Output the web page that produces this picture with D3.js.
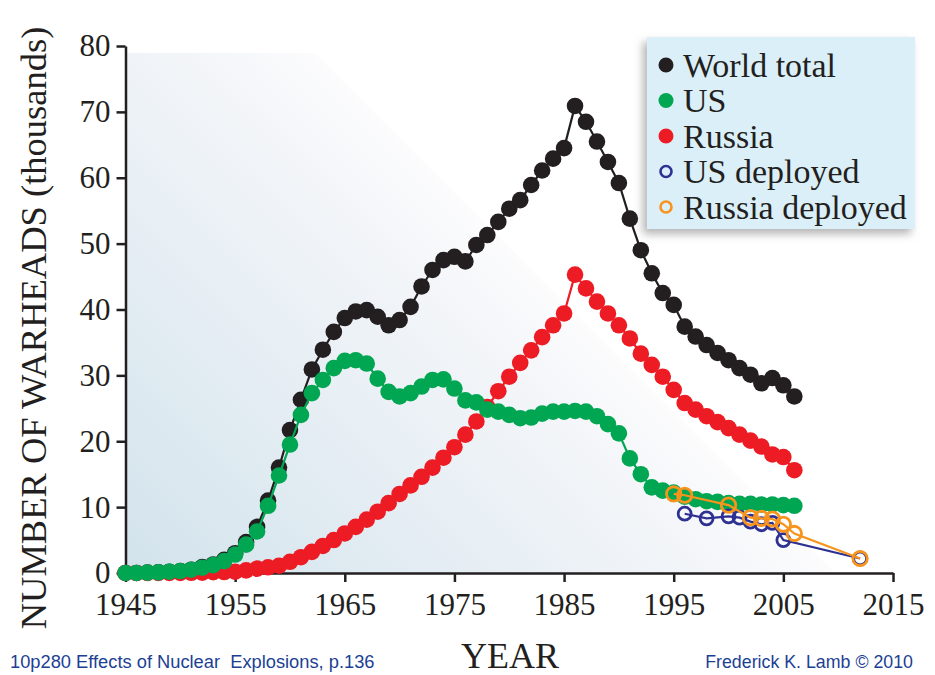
<!DOCTYPE html>
<html>
<head>
<meta charset="utf-8">
<script src="https://cdn.jsdelivr.net/npm/d3@7"></script>
<style>
  body { margin: 0; background: #fff; }
  svg { display: block; }
</style>
</head>
<body>
<div id="chart"></div>
<script>
// warhead counts in thousands, one value per year starting 1945
const firstYear = 1945;
const worldTotal = [
  0.0, 0.01, 0.05, 0.1, 0.2, 0.3, 0.5, 0.9, 1.3, 2.0,
  3.0, 4.7, 7.0, 11.0, 16.0, 21.7, 26.3, 30.9, 33.9, 36.6,
  38.7, 39.7, 39.9, 38.9, 37.6, 38.4, 40.4, 43.5, 46.0, 47.5,
  48.0, 47.3, 49.8, 51.3, 53.3, 55.3, 56.6, 58.9, 61.1, 62.9,
  64.5, 70.9, 68.5, 65.5, 62.4, 59.2, 53.8, 49.0, 45.5, 42.5,
  40.7, 37.4, 35.9, 34.6, 33.4, 32.3, 31.1, 30.1, 28.8, 29.6,
  28.5, 26.8
];
const usTotal = [
  0.0, 0.0, 0.05, 0.1, 0.2, 0.3, 0.5, 0.8, 1.2, 1.8,
  2.8, 4.3, 6.3, 10.2, 14.8, 19.5, 24.0, 27.3, 29.3, 31.1,
  32.2, 32.3, 31.8, 29.5, 27.5, 26.8, 27.3, 28.3, 29.3, 29.4,
  28.0, 26.2, 25.9, 24.8, 24.5, 24.0, 23.5, 23.6, 24.2, 24.5,
  24.5, 24.6, 24.5, 23.8, 22.6, 21.2, 17.4, 15.0, 13.0, 12.5,
  12.2, 11.6, 11.2, 10.9, 10.8, 10.6, 10.5, 10.5, 10.4, 10.4,
  10.3, 10.2
];
const russiaTotal = [
  0.0, 0.0, 0.0, 0.0, 0.0, 0.0, 0.03, 0.05, 0.12, 0.15,
  0.2, 0.4, 0.66, 0.87, 1.1, 1.7, 2.4, 3.2, 4.1, 5.0,
  6.0, 7.0, 8.1, 9.3, 10.6, 12.0, 13.3, 14.6, 16.0, 17.5,
  19.1, 21.0, 23.0, 25.2, 27.6, 29.8, 31.9, 33.8, 35.8, 37.6,
  39.4, 45.3, 43.2, 41.2, 39.4, 37.6, 35.6, 33.3, 31.6, 29.8,
  27.8, 25.8, 24.8, 23.8, 22.9, 22.0, 21.0, 20.1, 19.2, 18.0,
  17.6, 15.6
];
const usDeployedYears = [1996, 1998, 2000, 2001, 2002, 2003, 2004, 2005, 2012];
const usDeployed = [9.0, 8.3, 8.6, 8.4, 7.8, 7.4, 7.6, 5.0, 2.2];
const russiaDeployedYears = [1995, 1996, 2000, 2002, 2003, 2004, 2005, 2006, 2012];
const russiaDeployed = [12.0, 11.8, 10.3, 8.4, 8.3, 8.2, 7.4, 6.0, 2.2];

const xTicks = [1945, 1955, 1965, 1975, 1985, 1995, 2005, 2015];
const yTicks = [0, 10, 20, 30, 40, 50, 60, 70, 80];

const legendItems = [
  { label: "World total", color: "#231f20", open: false },
  { label: "US", color: "#00a651", open: false },
  { label: "Russia", color: "#ed1c24", open: false },
  { label: "US deployed", color: "#2e3192", open: true },
  { label: "Russia deployed", color: "#f7941d", open: true },
];

const width = 935, height = 675;
const serif = "'Liberation Serif', 'Times New Roman', serif";
const sans = "'Liberation Sans', Arial, sans-serif";

const x = d3.scaleLinear().domain([1945, 2015]).range([125.5, 893]);
const y = d3.scaleLinear().domain([0, 80]).range([573, 46]);

const svg = d3.select("#chart").append("svg")
  .attr("width", width)
  .attr("height", height);

const defs = svg.append("defs");

// diagonal wash behind the plot
const grad = defs.append("linearGradient")
  .attr("id", "wash")
  .attr("gradientUnits", "userSpaceOnUse")
  .attr("x1", 127).attr("y1", 573)
  .attr("x2", 481).attr("y2", 219);
grad.append("stop").attr("offset", 0).attr("stop-color", "#d2e3ec");
grad.append("stop").attr("offset", 0.5).attr("stop-color", "#e6eef4");
grad.append("stop").attr("offset", 0.85).attr("stop-color", "#f4f6f9");
grad.append("stop").attr("offset", 1).attr("stop-color", "#fcfcfd");

const shadow = defs.append("filter").attr("id", "shadow")
  .attr("x", -0.2).attr("y", -0.2).attr("width", 1.4).attr("height", 1.4);
shadow.append("feDropShadow")
  .attr("dx", -4).attr("dy", 5)
  .attr("stdDeviation", 4)
  .attr("flood-color", "#777")
  .attr("flood-opacity", 0.55);

svg.append("path")
  .attr("d", "M127,53 L315,53 L835,573 L127,573 Z")
  .attr("fill", "url(#wash)");

// axes
const gx = svg.append("g")
  .attr("transform", `translate(0,${y(0)})`)
  .call(d3.axisBottom(x).tickValues(xTicks).tickFormat(d3.format("d"))
    .tickSize(9).tickSizeOuter(0).tickPadding(11));

const gy = svg.append("g")
  .attr("transform", `translate(${x(1945)},0)`)
  .call(d3.axisLeft(y).tickValues(yTicks).tickSize(9).tickSizeOuter(0).tickPadding(6));

[gx, gy].forEach((g) => {
  g.selectAll("path, line").attr("stroke", "#231f20").attr("stroke-width", 2.5);
  g.selectAll("text")
    .attr("fill", "#231f20")
    .style("font-family", serif)
    .style("font-size", "31px");
});

// series
function drawSeries(xs, values, color, r, open) {
  const pts = values.map((v, i) => [xs[i], v]);
  const line = d3.line().x((d) => x(d[0])).y((d) => y(d[1]));
  const g = svg.append("g");
  g.append("path")
    .datum(pts)
    .attr("d", line)
    .attr("fill", "none")
    .attr("stroke", color)
    .attr("stroke-width", 2.2);
  g.selectAll("circle")
    .data(pts)
    .join("circle")
    .attr("cx", (d) => x(d[0]))
    .attr("cy", (d) => y(d[1]))
    .attr("r", r)
    .attr("fill", open ? "none" : color)
    .attr("stroke", open ? color : "none")
    .attr("stroke-width", open ? 2.8 : 0);
}

const years = worldTotal.map((d, i) => firstYear + i);
drawSeries(years, worldTotal, legendItems[0].color, 8.3, false);
drawSeries(years, russiaTotal, legendItems[2].color, 8.3, false);
drawSeries(years, usTotal, legendItems[1].color, 8.3, false);
drawSeries(usDeployedYears, usDeployed, legendItems[3].color, 6.5, true);
drawSeries(russiaDeployedYears, russiaDeployed, legendItems[4].color, 7.2, true);

// legend
const legend = svg.append("g").attr("transform", "translate(647,37)");
legend.append("rect")
  .attr("width", 268).attr("height", 192)
  .attr("fill", "#dbeff9")
  .attr("filter", "url(#shadow)");

const rows = legend.selectAll("g.row")
  .data(legendItems)
  .join("g")
  .attr("class", "row")
  .attr("transform", (d, i) => `translate(0,${28 + i * 35.5})`);
rows.append("circle")
  .attr("cx", 19).attr("cy", 0)
  .attr("r", (d) => (d.open ? 5.5 : 7.5))
  .attr("fill", (d) => (d.open ? "none" : d.color))
  .attr("stroke", (d) => (d.open ? d.color : "none"))
  .attr("stroke-width", 2.6);
rows.append("text")
  .attr("x", 36).attr("y", 0).attr("dy", "0.34em")
  .attr("fill", "#231f20")
  .style("font-family", serif)
  .style("font-size", "34px")
  .text((d) => d.label);

// titles
svg.append("text")
  .attr("transform", "translate(46,328) rotate(-90)")
  .attr("text-anchor", "middle")
  .attr("fill", "#231f20")
  .style("font-family", serif)
  .style("font-size", "36.5px")
  .text("NUMBER OF WARHEADS (thousands)");

svg.append("text")
  .attr("x", 510).attr("y", 668)
  .attr("text-anchor", "middle")
  .attr("fill", "#231f20")
  .style("font-family", serif)
  .style("font-size", "36px")
  .text("YEAR");

svg.append("text")
  .attr("x", 10).attr("y", 668)
  .attr("fill", "#1c3f94")
  .style("font-family", sans)
  .style("font-size", "18.3px")
  .style("white-space", "pre")
  .attr("xml:space", "preserve")
  .text("10p280 Effects of Nuclear  Explosions, p.136");

svg.append("text")
  .attr("x", 913).attr("y", 668)
  .attr("text-anchor", "end")
  .attr("fill", "#1c3f94")
  .style("font-family", sans)
  .style("font-size", "17.8px")
  .text("Frederick K. Lamb © 2010");
</script>
</body>
</html>
